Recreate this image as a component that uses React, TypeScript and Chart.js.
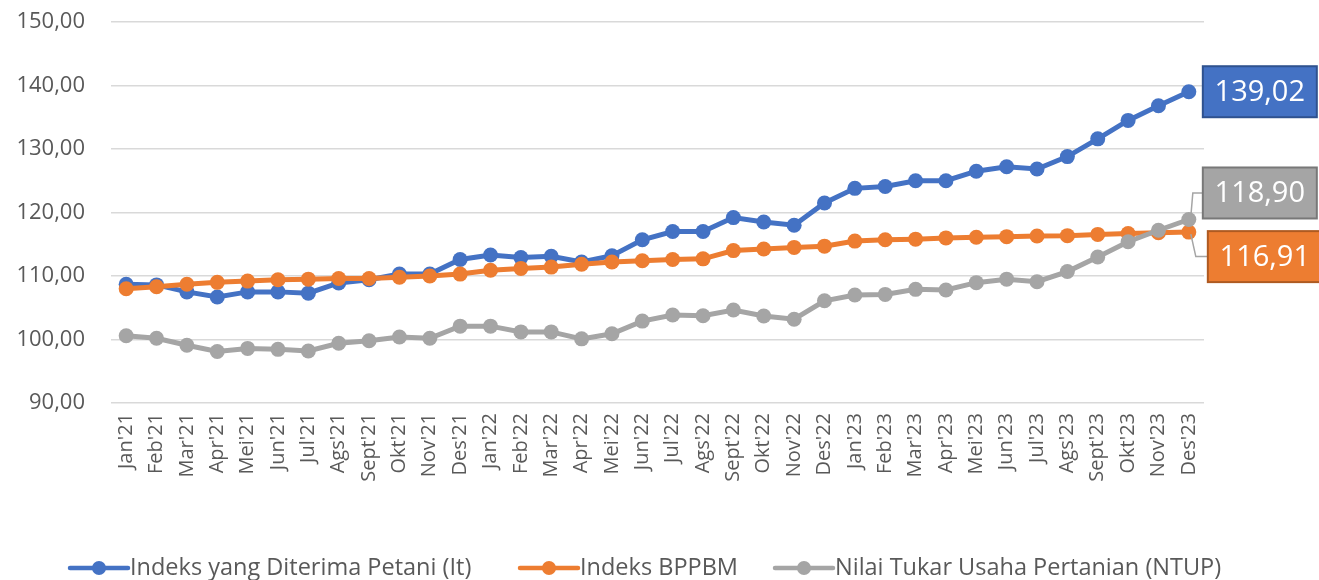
import React, { useEffect, useRef } from "react";
import { Chart, registerables } from "chart.js";

Chart.register(...registerables);

const months = [
  "Jan'21", "Feb'21", "Mar'21", "Apr'21", "Mei'21", "Jun'21", "Jul'21", "Ags'21", "Sept'21", "Okt'21", "Nov'21", "Des'21",
  "Jan'22", "Feb'22", "Mar'22", "Apr'22", "Mei'22", "Jun'22", "Jul'22", "Ags'22", "Sept'22", "Okt'22", "Nov'22", "Des'22",
  "Jan'23", "Feb'23", "Mar'23", "Apr'23", "Mei'23", "Jun'23", "Jul'23", "Ags'23", "Sept'23", "Okt'23", "Nov'23", "Des'23",
];

const indeksIt = [
  108.7, 108.6, 107.5, 106.7, 107.5, 107.5, 107.3, 108.9, 109.4, 110.3, 110.3, 112.6,
  113.3, 112.9, 113.1, 112.2, 113.2, 115.7, 117.0, 117.0, 119.2, 118.5, 118.0, 121.5,
  123.8, 124.1, 125.0, 125.0, 126.5, 127.2, 126.85, 128.8, 131.6, 134.5, 136.8, 139.02,
];

const indeksBPPBM = [
  108.0, 108.3, 108.7, 109.0, 109.2, 109.4, 109.5, 109.6, 109.6, 109.8, 110.0, 110.3,
  110.9, 111.2, 111.4, 111.85, 112.2, 112.4, 112.6, 112.7, 114.0, 114.25, 114.5, 114.7,
  115.5, 115.7, 115.8, 116.0, 116.1, 116.2, 116.3, 116.35, 116.55, 116.7, 116.8, 116.91,
];

const ntup = [
  100.6, 100.2, 99.1, 98.1, 98.6, 98.45, 98.2, 99.4, 99.8, 100.4, 100.2, 102.1,
  102.1, 101.2, 101.2, 100.1, 100.9, 102.9, 103.85, 103.75, 104.65, 103.7, 103.2, 106.1,
  107.0, 107.1, 107.9, 107.8, 108.95, 109.5, 109.1, 110.7, 113.0, 115.4, 117.2, 118.9,
];

const seriesNames = [
  "Indeks yang Diterima Petani (It)",
  "Indeks BPPBM",
  "Nilai Tukar Usaha Pertanian (NTUP)",
];

const yTicks = [90, 100, 110, 120, 130, 140, 150];

const colors = ["#4472C4", "#ED7D31", "#A5A5A5"];
const borderColors = ["#2F528F", "#AE5A21", "#787878"];

const FONT = "'Open Sans', 'Noto Sans', sans-serif";
const fmt = (v: number) => v.toFixed(2).replace(".", ",");

// layout-only constants
const endLabelLayout = [
  { dx: 14, dy: 0, leader: false },
  { dx: 19, dy: 24.5, leader: true },
  { dx: 14, dy: -26.5, leader: true },
];
const legendStarts = [70, 520, 775];

const endLabelPlugin = {
  id: "endLabels",
  afterDatasetsDraw(chart: any) {
    const ctx = chart.ctx;
    const xs = chart.scales.x;
    const ys = chart.scales.y;
    const boxW = 114;
    const boxH = 51;
    chart.data.datasets.forEach((ds: any, i: number) => {
      const last = ds.data.length - 1;
      const v = ds.data[last];
      const px = xs.getPixelForValue(last);
      const py = ys.getPixelForValue(v);
      const L = endLabelLayout[i];
      const bx = px + L.dx;
      const cy = py + L.dy;
      const by = cy - boxH / 2;
      ctx.save();
      if (L.leader) {
        ctx.strokeStyle = "#A5A5A5";
        ctx.lineWidth = 1.5;
        ctx.beginPath();
        ctx.moveTo(px + 2, py + (L.dy > 0 ? 2 : -3));
        ctx.lineTo(px + 4 + (L.dy > 0 ? 3 : 0), cy);
        ctx.lineTo(bx, cy);
        ctx.stroke();
      }
      ctx.fillStyle = colors[i];
      ctx.fillRect(bx, by, boxW, boxH);
      ctx.strokeStyle = borderColors[i];
      ctx.lineWidth = 2;
      ctx.strokeRect(bx, by, boxW, boxH);
      ctx.fillStyle = "#FFFFFF";
      ctx.font = `29px ${FONT}`;
      ctx.textAlign = "center";
      ctx.textBaseline = "middle";
      ctx.fillText(fmt(v), bx + boxW / 2, cy + 1);
      ctx.restore();
    });
  },
};

const legendPlugin = {
  id: "customLegend",
  afterDraw(chart: any) {
    const ctx = chart.ctx;
    const y = 568;
    ctx.save();
    chart.data.datasets.forEach((ds: any, i: number) => {
      const x0 = legendStarts[i];
      ctx.strokeStyle = colors[i];
      ctx.lineWidth = 4.5;
      ctx.lineCap = "round";
      ctx.beginPath();
      ctx.moveTo(x0, y);
      ctx.lineTo(x0 + 58, y);
      ctx.stroke();
      ctx.fillStyle = colors[i];
      ctx.beginPath();
      ctx.arc(x0 + 29, y, 7, 0, Math.PI * 2);
      ctx.fill();
      ctx.fillStyle = "#595959";
      ctx.font = `23.5px ${FONT}`;
      ctx.textAlign = "left";
      ctx.textBaseline = "middle";
      ctx.fillText(ds.label, x0 + 60, y);
    });
    ctx.restore();
  },
};

export default function App() {
  const ref = useRef<HTMLCanvasElement | null>(null);

  useEffect(() => {
    if (!ref.current) return;
    const mk = (data: number[], i: number, order: number) => ({
      label: seriesNames[i],
      data,
      borderColor: colors[i],
      backgroundColor: colors[i],
      pointBackgroundColor: colors[i],
      pointBorderColor: colors[i],
      borderWidth: 5,
      pointRadius: 7.5,
      pointBorderWidth: 0,
      tension: 0,
      order,
    });
    const chart = new Chart(ref.current, {
      type: "line",
      data: {
        labels: months,
        datasets: [mk(indeksIt, 0, 3), mk(indeksBPPBM, 1, 2), mk(ntup, 2, 1)],
      },
      options: {
        animation: false,
        responsive: false,
        layout: { padding: { top: 22, right: 115, bottom: 0, left: 0 } },
        plugins: { legend: { display: false }, tooltip: { enabled: false } },
        scales: {
          x: {
            offset: true,
            grid: { display: false, drawTicks: false },
            border: { display: false },
            ticks: {
              autoSkip: false,
              minRotation: 90,
              maxRotation: 90,
              padding: 10,
              color: "#595959",
              font: { family: FONT, size: 20 },
            },
            afterFit: (s: any) => {
              s.height = 177;
              s.paddingLeft = 0;
              s.paddingRight = 0;
            },
          },
          y: {
            min: 90,
            max: 150,
            afterBuildTicks: (s: any) => {
              s.ticks = yTicks.map((v) => ({ value: v }));
            },
            grid: { color: "#D9D9D9", lineWidth: 1.5, drawTicks: false },
            border: { display: false },
            ticks: {
              padding: 26,
              color: "#595959",
              font: { family: FONT, size: 22 },
              callback: (v: any) => fmt(Number(v)),
            },
            afterFit: (s: any) => {
              s.width = 111;
              s.paddingTop = 0;
              s.paddingBottom = 0;
            },
          },
        },
      },
      plugins: [endLabelPlugin, legendPlugin],
    });
    return () => chart.destroy();
  }, []);

  return (
    <div style={{ position: "fixed", left: 0, top: 0, width: 1319, height: 580, background: "#fff" }}>
      <canvas ref={ref} width={1319} height={580} />
    </div>
  );
}
